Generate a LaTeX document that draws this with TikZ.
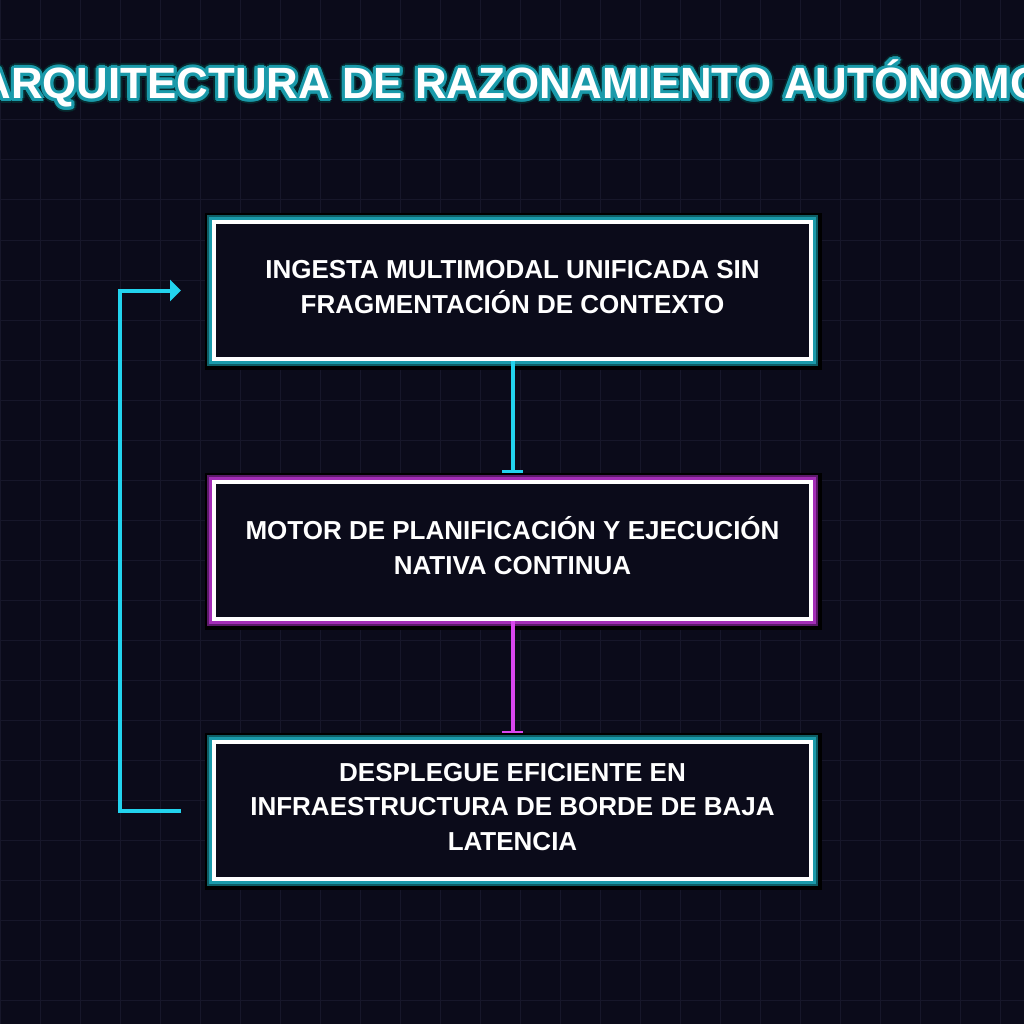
\documentclass[tikz,border=0pt]{standalone}
\usepackage{fontspec}
\setmainfont{Liberation Sans}
\usetikzlibrary{arrows.meta,calc}
\definecolor{bg}{HTML}{0B0B1A}
\definecolor{gridc}{HTML}{17172A}
\definecolor{cyanl}{HTML}{22D3EE}
\definecolor{tealA}{HTML}{1A9AAA}
\definecolor{tealB}{HTML}{0E5E66}
\definecolor{magl}{HTML}{D946EF}
\definecolor{magA}{HTML}{A32DB6}
\definecolor{magB}{HTML}{5C1A6A}
\begin{document}
\begin{tikzpicture}[x=1pt,y=-1pt,
  box/.style={draw=white, line width=4pt, fill=bg, minimum width=597pt, minimum height=137pt,
    outer sep=0pt, inner sep=0pt},
  boxtext/.style={align=center, text=white, inner sep=0pt, outer sep=0pt,
    font=\bfseries\fontsize{26}{34.5}\selectfont},
  tealbox/.style={box, preaction={draw=black,line width=20pt,transform canvas={shift={(1pt,-1pt)}}},
    preaction={draw=tealB,line width=14pt}, preaction={draw=tealA,line width=10pt}},
  magbox/.style={box, preaction={draw=black,line width=20pt,transform canvas={shift={(1pt,-1pt)}}},
    preaction={draw=magB,line width=14pt}, preaction={draw=magA,line width=10pt}},
  titlefont/.style={font=\bfseries\fontsize{43.8}{43.8}\selectfont, inner sep=0pt, outer sep=0pt, anchor=base},
  conn/.style={line width=4pt},
  gridline/.style={draw=gridc, line width=1pt}]
\fill[bg] (0,0) rectangle (1024,1024);
\useasboundingbox (0,0) rectangle (1024,1024);
\foreach \i in {0,40,...,1000} {
  \draw[gridline] (\i,0) -- (\i,1024);
  \draw[gridline] (0,\i) -- (1024,\i);
}
% title with glow
\coordinate (tpos) at (512,99);
\foreach \a in {0,22.5,...,359} {
  \node[titlefont, text=black!55!tealB] (tgo\a) at ($(tpos)+(\a:5)$) {ARQUITECTURA DE RAZONAMIENTO AUTÓNOMO};
}
\foreach \a in {0,22.5,...,359} {
  \node[titlefont, text=tealA] (tgi\a) at ($(tpos)+(\a:3)$) {ARQUITECTURA DE RAZONAMIENTO AUTÓNOMO};
}
\node[titlefont, text=white] (title) at (tpos) {ARQUITECTURA DE RAZONAMIENTO AUTÓNOMO};
% boxes
\node[tealbox] (b1) at (512.5,290.5) {};
\node[boxtext] (t1) at ($(b1.center)+(0,-3.5)$) {INGESTA MULTIMODAL UNIFICADA SIN\\FRAGMENTACIÓN DE CONTEXTO};
\node[magbox] (b2) at (512.5,550) {};
\node[boxtext] (t2) at ($(b2.center)+(0,-4.5)$) {MOTOR DE PLANIFICACIÓN Y EJECUCIÓN\\NATIVA CONTINUA};
\node[tealbox] (b3) at (512.5,810.5) {};
\node[boxtext] (t3) at ($(b3.center)+(0,-3.5)$) {DESPLEGUE EFICIENTE EN\\INFRAESTRUCTURA DE BORDE DE BAJA\\LATENCIA};
% connectors
\coordinate (e12) at ($(b2.north)+(0,-10)$);
\draw[conn, cyanl] ($(b1.south)+(0,2)$) -- (e12);
\draw[line width=2.2pt, cyanl] ($(e12)+(-10.5,0)$) -- ($(e12)+(10.5,0)$);
\coordinate (e23) at ($(b3.north)+(0,-10)$);
\draw[conn, magl] ($(b2.south)+(0,2)$) -- (e23);
\draw[line width=2.2pt, magl] ($(e23)+(-10.5,0)$) -- ($(e23)+(10.5,0)$);
\coordinate (l3) at ($(b3.west)+(-33,0)$);
\coordinate (l1) at ($(b1.west)+(-33,0)$);
\draw[conn, cyanl, -{Triangle[length=11pt,width=21pt]}] (l3) -- ++(-61,0) |- (l1);
\end{tikzpicture}
\end{document}
